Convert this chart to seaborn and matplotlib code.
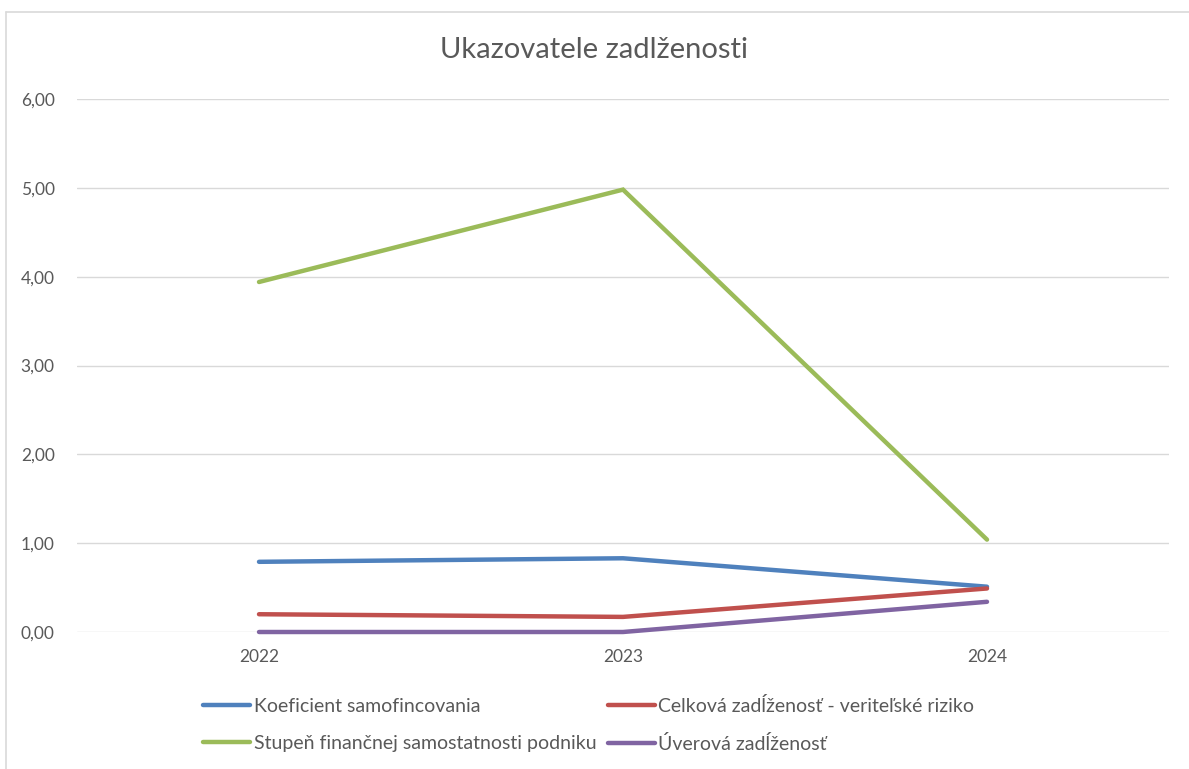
import pandas as pd
import matplotlib.pyplot as plt
import seaborn as sns
from matplotlib.lines import Line2D
from matplotlib.ticker import FuncFormatter

# --- chart data ---
years = ["2022", "2023", "2024"]
series_names = [
    "Koeficient samofincovania",
    "Celková zadĺženosť - veriteľské riziko",
    "Stupeň finančnej samostatnosti podniku",
    "Úverová zadĺženosť",
]
koeficient = [0.79, 0.83, 0.51]
celkova = [0.20, 0.17, 0.49]
stupen = [3.94, 4.98, 1.04]
uverova = [0.00, 0.00, 0.34]
colors = ["#4F81BD", "#C0504D", "#9BBB59", "#8064A2"]

rows = []
for name, vals in zip(series_names, [koeficient, celkova, stupen, uverova]):
    for yr, v in zip(years, vals):
        rows.append({"Rok": yr, "Hodnota": v, "Ukazovateľ": name})
df = pd.DataFrame(rows)

sns.set_style("white")
plt.rcParams['font.family'] = ['Lato', 'DejaVu Sans']

W, H = 1189, 769
fig = plt.figure(figsize=(W / 100, H / 100), dpi=100)
ax = fig.add_axes([77 / W, 1 - 632 / H, (1169 - 77) / W, (632 - 99) / H])

sns.lineplot(data=df, x="Rok", y="Hodnota", hue="Ukazovateľ",
             hue_order=series_names, palette=colors, linewidth=3.2,
             sort=False, ax=ax, legend=False, zorder=3)
for ln in ax.lines:
    ln.set_solid_capstyle("round")
    ln.set_solid_joinstyle("miter")
    ln.set_clip_on(False)

ax.set_xlim(-0.5, 2.5)
ax.set_ylim(0, 6)
ax.set_yticks([0, 1, 2, 3, 4, 5, 6])
ax.yaxis.set_major_formatter(FuncFormatter(lambda v, p: f"{v:.2f}".replace(".", ",")))
ax.grid(axis="y", color="#D9D9D9", linewidth=1.0, zorder=0)
ax.set_axisbelow(True)
for s in ax.spines.values():
    s.set_visible(False)
ax.tick_params(axis="both", length=0, labelsize=12.5, labelcolor="#595959")
ax.tick_params(axis="y", pad=16)
ax.tick_params(axis="x", pad=12)
ax.set_xlabel("")
ax.set_ylabel("")

fig.text(0.5, 1 - 50 / H, "Ukazovatele zadlženosti", ha="center", va="center",
         fontsize=21, color="#595959")

# legend: row-major order as in reference
handles = [Line2D([0], [0], color=c, linewidth=3.2, solid_capstyle="round") for c in colors]
order = [0, 2, 1, 3]
fig.legend([handles[i] for i in order], [series_names[i] for i in order],
           ncol=2, frameon=False, loc="center left",
           bbox_to_anchor=(203 / W, 1 - 725 / H), fontsize=14,
           labelcolor="#595959", handlelength=2.4, handletextpad=0.2,
           columnspacing=0.6, labelspacing=1.0, borderpad=0, borderaxespad=0)

# chart border (left and top visible)
fig.add_artist(Line2D([6 / W, 6 / W], [0, 1 - 12 / H], color="#D9D9D9", linewidth=1.2,
                      transform=fig.transFigure))
fig.add_artist(Line2D([6 / W, 1], [1 - 12 / H, 1 - 12 / H], color="#D9D9D9", linewidth=1.2,
                      transform=fig.transFigure))

fig.savefig("out.png", dpi=100, facecolor="white")
